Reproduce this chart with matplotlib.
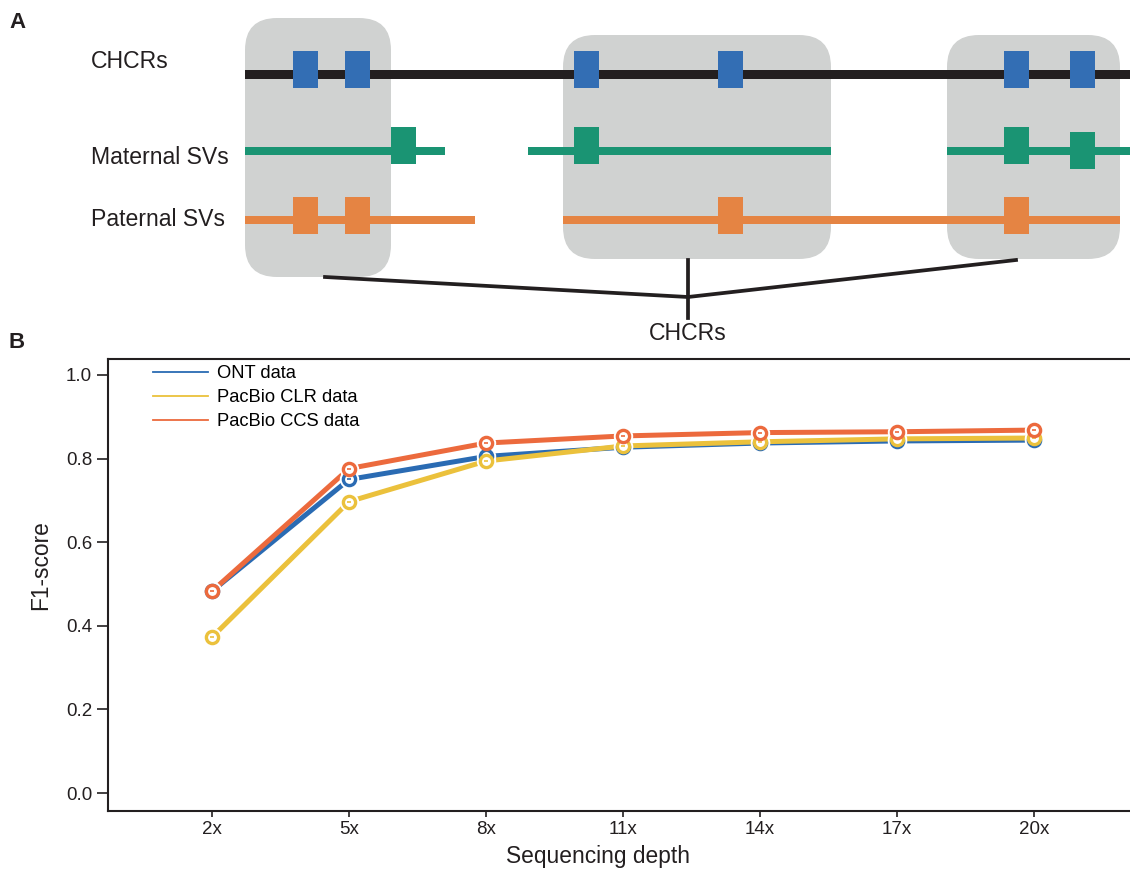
import numpy as np
import matplotlib
matplotlib.use("Agg")
import matplotlib.pyplot as plt
from matplotlib.patches import FancyBboxPatch, Rectangle

plt.rcParams['font.family'] = ['Liberation Sans', 'DejaVu Sans']

# ---- data (panel B) ----
depths = ['2x', '5x', '8x', '11x', '14x', '17x', '20x']
ont = [0.483, 0.750, 0.805, 0.827, 0.837, 0.842, 0.844]
clr = [0.373, 0.697, 0.794, 0.830, 0.840, 0.847, 0.849]
ccs = [0.483, 0.776, 0.837, 0.854, 0.862, 0.864, 0.868]
series_names = ['ONT data', 'PacBio CLR data', 'PacBio CCS data']
series_colors = ['#2a6bb3', '#ebc13c', '#ec6a3d']

# ---- schematic (panel A), in pixel units ----
track_labels = ['CHCRs', 'Maternal SVs', 'Paternal SVs']
track_label_y = [61, 157, 219]
track_y = [74.5, 151, 220]
track_h = [9, 8, 8]
track_colors = ['#231f20', '#1a9473', '#e58443']
block_colors = ['#336eb4', '#1a9473', '#e58443']
track_segments = [[(245, 1130)],
                  [(245, 445), (528, 831), (947, 1130)],
                  [(245, 475), (563, 1120)]]
track_blocks = [[293, 345, 574, 718, 1004, 1070],
                [391, 574, 1004, 1070],
                [293, 345, 718, 1004]]
block_shift = [[0] * 6, [0, 0, 0, 5], [0] * 4]
gray_boxes = [(245, 18, 146, 259), (563, 35, 268, 224), (947, 35, 173, 224)]

fig = plt.figure(figsize=(11.3, 8.72), dpi=100)

axA = fig.add_axes([0, 0, 1, 1])
axA.set_xlim(0, 1130)
axA.set_ylim(872, 0)
axA.axis('off')

for (x, y, w, h) in gray_boxes:
    axA.add_patch(FancyBboxPatch((x, y), w, h, boxstyle="round,pad=0,rounding_size=32",
                                 fc='#d0d2d1', ec='none', zorder=1))
for i in range(3):
    for (x0, x1) in track_segments[i]:
        axA.add_patch(Rectangle((x0, track_y[i] - track_h[i] / 2), x1 - x0, track_h[i],
                                fc=track_colors[i], ec='none', zorder=2))
    for bx, sh in zip(track_blocks[i], block_shift[i]):
        axA.add_patch(Rectangle((bx, track_y[i] - 23.5 + sh), 25, 37,
                                fc=block_colors[i], ec='none', zorder=3))
    axA.text(91, track_label_y[i], track_labels[i], fontsize=16.6, color='#231f20',
             ha='left', va='center')

axA.plot([325, 688, 1016], [277, 297, 260], color='#231f20', lw=2.7, zorder=2)
axA.plot([688, 688], [260, 318], color='#231f20', lw=2.7, zorder=2)
axA.text(688, 333, 'CHCRs', fontsize=16.6, color='#231f20', ha='center', va='center')
axA.text(9, 23, 'A', fontsize=16, fontweight='bold', va='center', ha='left', color='#231f20')
axA.text(9, 342, 'B', fontsize=16, fontweight='bold', va='center', ha='left', color='#231f20')

# ---- panel B ----
ax = fig.add_axes([108 / 1130, 1 - 811 / 872, 1 - 108 / 1130, (811 - 359) / 872])
x = np.arange(len(depths))
data = [ont, clr, ccs]
for i, ys in enumerate(data):
    ax.plot(x, ys, color=series_colors[i], lw=3.6, solid_capstyle='round',
            zorder=2 + i * 0.1, label=series_names[i])
for i, ys in enumerate(data):
    ax.plot(x, ys, ls='none', marker='o', ms=14, mfc='white', mec='none', zorder=5)
for i, ys in enumerate(data):
    ax.plot(x, ys, ls='none', marker='o', ms=8.8, mfc='white',
            mec=series_colors[i], mew=2.4, zorder=6 + i)
    ax.plot(x, ys, ls='none', marker='_', ms=3, mec=series_colors[i], mew=1.2, zorder=6 + i)

ax.set_xlim(-0.76, 6.70)
ax.set_ylim(-0.043, 1.038)
ax.set_xticks(x)
ax.set_xticklabels(depths)
ax.set_yticks([0, 0.2, 0.4, 0.6, 0.8, 1.0])
ax.set_yticklabels(['0.0', '0.2', '0.4', '0.6', '0.8', '1.0'])
ax.tick_params(axis='both', labelsize=13.5, width=1.2, direction='out',
               colors='#231f20', pad=3.5)
ax.tick_params(axis='x', length=4)
ax.tick_params(axis='y', length=8)
ax.spines['right'].set_visible(False)
for s in ['left', 'bottom', 'top']:
    ax.spines[s].set_linewidth(1.5)
    ax.spines[s].set_color('#231f20')
ax.set_xlabel('Sequencing depth', fontsize=16.4, color='#231f20')
ax.xaxis.set_label_coords(0.479, -0.075)
ax.set_ylabel('F1-score', fontsize=16.4, color='#231f20')
ax.yaxis.set_label_coords(-0.055, 0.544)

handles = [plt.Line2D([], [], color=c, lw=1.3) for c in series_colors]
fig.legend(handles, series_names, loc='upper left', bbox_to_anchor=(153 / 1130, 1 - 365 / 872),
           frameon=False, fontsize=13.2, handlelength=3, handletextpad=0.5,
           borderpad=0, borderaxespad=0, labelspacing=0.39)

fig.savefig('out.png', dpi=100)
